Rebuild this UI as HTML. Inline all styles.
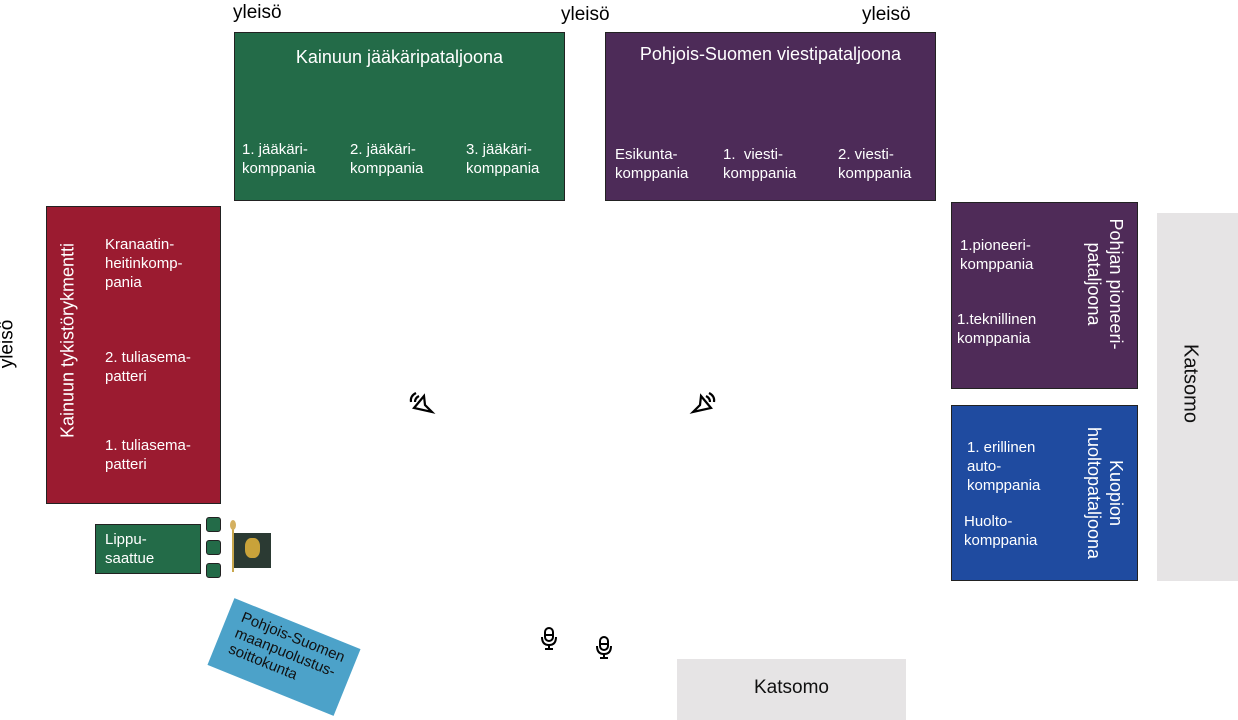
<!DOCTYPE html>
<html><head><meta charset="utf-8"><style>
body{margin:0;width:1238px;height:720px;background:#fff;position:relative;overflow:hidden;font-family:"Liberation Sans",sans-serif;}
.a{position:absolute;}
.box{position:absolute;box-sizing:border-box;border:1px solid #222;color:#fff;}
.t{position:absolute;color:#fff;font-size:15px;line-height:19px;white-space:nowrap;}
.rot{position:absolute;white-space:nowrap;text-align:center;color:#fff;}
.y{position:absolute;font-size:19px;color:#000;}
</style></head><body>
<div class="y" style="left:233px;top:2px">yleisö</div>
<div class="y" style="left:561px;top:4px">yleisö</div>
<div class="y" style="left:862px;top:4px">yleisö</div>
<div class="y" style="left:-17px;top:333px;transform:rotate(-90deg)">yleisö</div>

<div class="box" style="left:234px;top:32px;width:331px;height:169px;background:#236B48"></div>
<div class="t" style="left:235px;top:48px;width:329px;text-align:center;font-size:18px">Kainuun jääkäripataljoona</div>
<div class="t" style="left:242px;top:140px">1. jääkäri-<br>komppania</div>
<div class="t" style="left:350px;top:140px">2. jääkäri-<br>komppania</div>
<div class="t" style="left:466px;top:140px">3. jääkäri-<br>komppania</div>

<div class="box" style="left:605px;top:32px;width:331px;height:169px;background:#4D2B58"></div>
<div class="t" style="left:606px;top:45px;width:329px;text-align:center;font-size:18px">Pohjois-Suomen viestipataljoona</div>
<div class="t" style="left:615px;top:145px">Esikunta-<br>komppania</div>
<div class="t" style="left:723px;top:145px">1.&nbsp; viesti-<br>komppania</div>
<div class="t" style="left:838px;top:145px">2. viesti-<br>komppania</div>

<div class="box" style="left:46px;top:206px;width:175px;height:298px;background:#9B1B30"></div>
<div class="rot" style="left:-32px;top:330px;width:200px;font-size:18px;transform:rotate(-90deg)">Kainuun tykistörykmentti</div>
<div class="t" style="left:105px;top:235px">Kranaatin-<br>heitinkomp-<br>pania</div>
<div class="t" style="left:105px;top:348px">2. tuliasema-<br>patteri</div>
<div class="t" style="left:105px;top:436px">1. tuliasema-<br>patteri</div>

<div class="box" style="left:951px;top:202px;width:187px;height:187px;background:#4F2B58"></div>
<div class="rot" style="left:1025px;top:262px;width:160px;font-size:18px;line-height:22px;transform:rotate(90deg)">Pohjan pioneeri-<br>pataljoona</div>
<div class="t" style="left:960px;top:236px">1.pioneeri-<br>komppania</div>
<div class="t" style="left:957px;top:310px">1.teknillinen<br>komppania</div>

<div class="box" style="left:951px;top:405px;width:187px;height:176px;background:#1F4BA0"></div>
<div class="rot" style="left:1025px;top:471px;width:160px;font-size:18px;line-height:22px;transform:rotate(90deg)">Kuopion<br>huoltopataljoona</div>
<div class="t" style="left:967px;top:438px">1. erillinen<br>auto-<br>komppania</div>
<div class="t" style="left:964px;top:512px">Huolto-<br>komppania</div>

<div class="a" style="left:1157px;top:213px;width:81px;height:368px;background:#E6E4E5"></div>
<div class="rot" style="left:1140px;top:372px;width:100px;color:#111;font-size:20px;transform:rotate(90deg)">Katsomo</div>
<div class="a" style="left:677px;top:659px;width:229px;height:61px;background:#E6E4E5"></div>
<div class="a" style="left:677px;top:677px;width:229px;text-align:center;font-size:19px;color:#111">Katsomo</div>

<div class="box" style="left:95px;top:524px;width:106px;height:50px;background:#236B48"></div>
<div class="t" style="left:105px;top:530px">Lippu-<br>saattue</div>
<div class="box" style="left:206px;top:517px;width:15px;height:15px;border-radius:3px;background:#236B48"></div>
<div class="box" style="left:206px;top:540px;width:15px;height:15px;border-radius:3px;background:#236B48"></div>
<div class="box" style="left:206px;top:563px;width:15px;height:15px;border-radius:3px;background:#236B48"></div>
<div class="a" style="left:232px;top:522px;width:2px;height:50px;background:#c9a84e"></div>
<div class="a" style="left:230px;top:520px;width:6px;height:10px;border-radius:50%;background:#d4b060"></div>
<div class="a" style="left:234px;top:533px;width:37px;height:35px;background:#2b3a33"></div>
<div class="a" style="left:245px;top:538px;width:15px;height:20px;border-radius:40%;background:#c9a23a"></div>

<div class="a" style="left:216px;top:621px;width:136px;height:72px;background:#4CA2C9;transform:rotate(22deg);box-sizing:border-box;padding:6px 0 0 14px;font-size:15px;line-height:17px;color:#111;white-space:nowrap">Pohjois-Suomen<br>maanpuolustus-<br>soittokunta</div>

<svg class="a" style="left:405px;top:388px" width="32" height="28" viewBox="0 0 32 28"><g fill="none" stroke="#000" stroke-width="2.2"><path d="M9 20 L19 8 L20 17 L27 24 Z"/><path d="M11 5 Q5 8 6 14"/><path d="M14 8 Q10 10 10 14"/></g></svg>
<svg class="a" style="left:688px;top:388px" width="32" height="28" viewBox="0 0 32 28"><g fill="none" stroke="#000" stroke-width="2.2" transform="translate(32,0) scale(-1,1)"><path d="M9 20 L19 8 L20 17 L27 24 Z"/><path d="M11 5 Q5 8 6 14"/><path d="M14 8 Q10 10 10 14"/></g></svg>
<svg class="a" style="left:540px;top:627px" width="18" height="24" viewBox="0 0 18 24"><g fill="none" stroke="#000" stroke-width="2"><rect x="5" y="1" width="8" height="13" rx="4"/><path d="M2 10 Q2 18 9 18 Q16 18 16 10"/><path d="M9 18 V22 M5 22 H13"/><path d="M5 8 H13"/></g></svg>
<svg class="a" style="left:595px;top:636px" width="18" height="24" viewBox="0 0 18 24"><g fill="none" stroke="#000" stroke-width="2"><rect x="5" y="1" width="8" height="13" rx="4"/><path d="M2 10 Q2 18 9 18 Q16 18 16 10"/><path d="M9 18 V22 M5 22 H13"/><path d="M5 8 H13"/></g></svg>
</body></html>
